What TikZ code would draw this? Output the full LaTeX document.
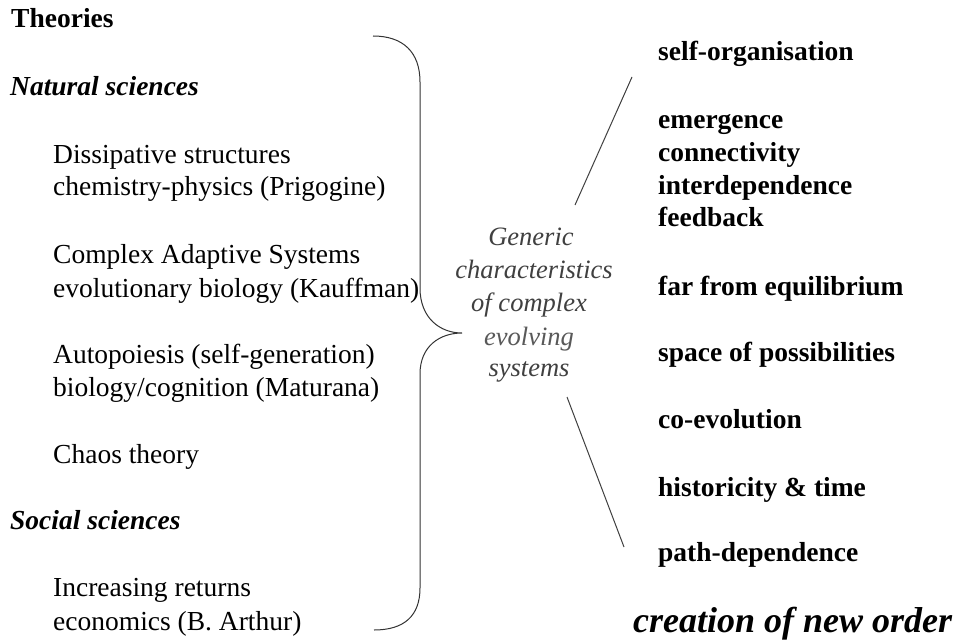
\documentclass[tikz,border=0pt]{standalone}
\usepackage{fontspec}
\setmainfont{Liberation Serif}
\begin{document}
\begin{tikzpicture}[x=1pt,y=-1pt,
  lbl/.style={anchor=base west,inner sep=0pt,font=\fontsize{27.5}{30}\selectfont},
  head/.style={lbl,font=\fontsize{27.5}{30}\selectfont\bfseries},
  headit/.style={lbl,font=\fontsize{27.5}{30}\selectfont\bfseries\itshape},
  trait/.style={lbl,font=\fontsize{27.5}{30}\selectfont\bfseries},
  centre/.style={anchor=base,inner sep=0pt,text=black!75,font=\fontsize{26.5}{30}\selectfont\itshape},
  link/.style={draw=black!75,line width=1pt}]
\useasboundingbox (0,0) rectangle (955,642);
\fill[white] (0,0) rectangle (955,642);

% theories column
\node[head]   (th)  at (11,28)  {Theories};
\node[headit] (nat) at (10,95)  {Natural sciences};
\node[lbl] (d1) at (53,163) {Dissipative structures};
\node[lbl] (d2) at (53,195) {chemistry-physics (Prigogine)};
\node[lbl] (c1) at (53,263) {Complex Adaptive Systems};
\node[lbl] (c2) at (53,297) {evolutionary biology (Kauffman)};
\node[lbl] (a1) at (53,363) {Autopoiesis (self-generation)};
\node[lbl] (a2) at (53,396) {biology/cognition (Maturana)};
\node[lbl] (ch) at (53,463) {Chaos theory};
\node[headit] (soc) at (10,529) {Social sciences};
\node[lbl] (i1) at (53,596) {Increasing returns};
\node[lbl] (i2) at (53,630) {economics (B. Arthur)};

% curly brace gathering the theories
\draw[black!80,line width=1pt]
  (373,36) .. controls (403,36) and (420,52) .. (420,82)
  -- (420,288) .. controls (420,318) and (440,333) .. (462,333)
  .. controls (440,333) and (420,346) .. (420,374)
  -- (420,588) .. controls (420,616) and (404,630) .. (374,630);

% central label
\node[centre] (g1) at (531,245) {Generic};
\node[centre] (g2) at (534,278) {characteristics};
\node[centre] (g3) at (529,311) {of complex};
\node[centre,text=black!65] (g4) at (529,345) {evolving};
\node[centre] (g5) at (529,376) {systems};
\coordinate (up) at (575,205);
\coordinate (lo) at (567,397);

% characteristics column
\node[trait] (t1)  at (658,60)  {self-organisation};
\node[trait] (t2)  at (658,128) {emergence};
\node[trait] (t3)  at (658,161) {connectivity};
\node[trait] (t4)  at (658,194) {interdependence};
\node[trait] (t5)  at (658,226) {feedback};
\node[trait] (t6)  at (658,295) {far from equilibrium};
\node[trait] (t7)  at (658,361) {space of possibilities};
\node[trait] (t8)  at (658,428) {co-evolution};
\node[trait] (t9)  at (658,496) {historicity \& time};
\node[trait] (t10) at (658,561) {path-dependence};
\node[lbl,font=\fontsize{36}{40}\selectfont\bfseries\itshape] (t11) at (633,632) {creation of new order};

\coordinate (t1end) at (632,77);
\coordinate (t10end) at (624,547);
\draw[link] (up) -- (t1end);
\draw[link] (lo) -- (t10end);
\end{tikzpicture}
\end{document}
